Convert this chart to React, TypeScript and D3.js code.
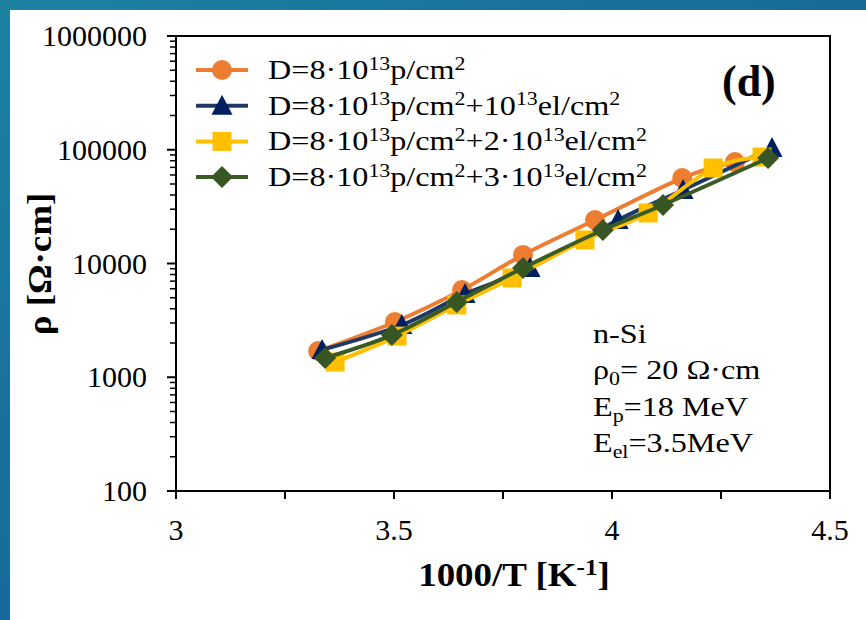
import React from "react";
import * as d3 from "d3";

const W = 866;
const H = 620;

// Data (x = 1000/T, y = resistivity)
const orangeX = [3.326, 3.502, 3.656, 3.796, 3.961, 4.161, 4.282];
const orangeY = [1700, 3060, 5850, 11900, 24100, 56400, 78000];
const navyX = [3.335, 3.518, 3.663, 3.812, 4.014, 4.163, 4.367];
const navyY = [1740, 2880, 5390, 9130, 24100, 44300, 103500];
const goldX = [3.365, 3.507, 3.644, 3.771, 3.938, 4.083, 4.232, 4.344];
const goldY = [1360, 2300, 4320, 7460, 16100, 27800, 69100, 86300];
const greenX = [3.342, 3.495, 3.644, 3.796, 3.979, 4.117, 4.358];
const greenY = [1480, 2350, 4590, 9130, 19700, 32700, 84600];

const legendLabels = [
  "D=8·10^{13}p/cm^{2}",
  "D=8·10^{13}p/cm^{2}+10^{13}el/cm^{2}",
  "D=8·10^{13}p/cm^{2}+2·10^{13}el/cm^{2}",
  "D=8·10^{13}p/cm^{2}+3·10^{13}el/cm^{2}",
];
const xTicks = [3, 3.25, 3.5, 3.75, 4, 4.25, 4.5];
const xTickLabels = ["3", "", "3.5", "", "4", "", "4.5"];
const yMajor = [100, 1000, 10000, 100000, 1000000];
const yTickLabels = ["100", "1000", "10000", "100000", "1000000"];
const noteLines = ["n-Si", "ρ_{0}= 20 Ω·cm", "E_{p}=18 MeV", "E_{el}=3.5MeV"];

const seriesDefs = [
  { xs: orangeX, ys: orangeY, line: "#ED7D31", fill: "#ED7D31", shape: "circle" },
  { xs: navyX, ys: navyY, line: "#1F3864", fill: "#002060", shape: "triangle" },
  { xs: goldX, ys: goldY, line: "#FFC000", fill: "#FFC000", shape: "square" },
  { xs: greenX, ys: greenY, line: "#3B5B24", fill: "#375623", shape: "diamond" },
];

const SERIF = "'Liberation Serif', 'Times New Roman', serif";

const plot = { left: 176, right: 830, top: 36, bottom: 491 };
const x = d3.scaleLinear().domain([3, 4.5]).range([plot.left, plot.right]);
const y = d3.scaleLog().domain([100, 1000000]).range([plot.bottom, plot.top]);

function rich(s: string, fs: number, key: string) {
  const out: any[] = [];
  const re = /(\^|_)\{([^}]*)\}/g;
  let last = 0;
  let m: RegExpExecArray | null;
  let shift = 0;
  let i = 0;
  const small = fs * 0.68;
  while ((m = re.exec(s))) {
    if (m.index > last) {
      out.push(
        <tspan key={key + i++} dy={-shift} fontSize={fs}>
          {s.slice(last, m.index)}
        </tspan>
      );
      shift = 0;
    }
    const d = m[1] === "^" ? -fs * 0.33 : fs * 0.22;
    out.push(
      <tspan key={key + i++} dy={d - shift} fontSize={small}>
        {m[2]}
      </tspan>
    );
    shift = d;
    last = m.index + m[0].length;
  }
  if (last < s.length) {
    out.push(
      <tspan key={key + i++} dy={-shift} fontSize={fs}>
        {s.slice(last)}
      </tspan>
    );
  }
  return out;
}

function Marker({ shape, cx, cy, color }: any) {
  if (shape === "circle") return <circle cx={cx} cy={cy} r={10} fill={color} />;
  if (shape === "square")
    return <rect x={cx - 9.5} y={cy - 9.5} width={19} height={19} fill={color} />;
  if (shape === "triangle")
    return (
      <path
        d={`M${cx},${cy - 11} L${cx + 10.5},${cy + 9} L${cx - 10.5},${cy + 9} Z`}
        fill={color}
      />
    );
  return (
    <path
      d={`M${cx},${cy - 11} L${cx + 11},${cy} L${cx},${cy + 11} L${cx - 11},${cy} Z`}
      fill={color}
    />
  );
}

export default function App() {
  const lineGen = d3
    .line<[number, number]>()
    .x((d) => x(d[0]))
    .y((d) => y(d[1]))
    .curve(d3.curveCardinal.tension(0));

  const yMinor: number[] = [];
  for (let p = 100; p < 1000000; p *= 10) {
    for (let k = 2; k <= 9; k++) yMinor.push(p * k);
  }

  const legendY0 = 70;
  const legendDy = 35.7;

  return (
    <svg
      width={W}
      height={H}
      style={{ position: "absolute", left: 0, top: 0, display: "block" }}
      fontFamily={SERIF}
    >
      <defs>
        <linearGradient id="bg" x1="0" y1="0" x2="1" y2="1">
          <stop offset="0" stopColor="#1D82A2" />
          <stop offset="0.5" stopColor="#186A98" />
          <stop offset="1" stopColor="#174C8E" />
        </linearGradient>
        <clipPath id="plotclip">
          <rect x={plot.left} y={plot.top} width={plot.right - plot.left} height={plot.bottom - plot.top} />
        </clipPath>
      </defs>
      <rect x={0} y={0} width={W} height={H} fill="url(#bg)" />
      <rect x={10} y={10} width={W - 10} height={H - 10} fill="#ffffff" />

      {/* Series */}
      {seriesDefs.map((s, si) => {
        const pts = s.xs.map((xv, i) => [xv, s.ys[i]] as [number, number]);
        return (
          <g key={"s" + si}>
            <path d={lineGen(pts) || ""} fill="none" stroke={s.line} strokeWidth={4} strokeLinejoin="round" />
            {pts.map((p, i) => (
              <Marker key={i} shape={s.shape} cx={x(p[0])} cy={y(p[1])} color={s.fill} />
            ))}
          </g>
        );
      })}

      {/* Frame */}
      <rect
        x={plot.left}
        y={plot.top}
        width={plot.right - plot.left}
        height={plot.bottom - plot.top}
        fill="none"
        stroke="#000"
        strokeWidth={2}
      />

      {/* Y ticks */}
      {yMajor.map((v, i) => (
        <g key={"ym" + i}>
          <line x1={plot.left - 9} x2={plot.left} y1={y(v)} y2={y(v)} stroke="#000" strokeWidth={2} />
          <text x={147} y={y(v) + 10} textAnchor="end" fontSize={30} fill="#000">
            {yTickLabels[i]}
          </text>
        </g>
      ))}
      {yMinor.map((v, i) => (
        <line key={"yn" + i} x1={plot.left - 6} x2={plot.left} y1={y(v)} y2={y(v)} stroke="#000" strokeWidth={1.5} />
      ))}

      {/* X ticks */}
      {xTicks.map((v, i) => (
        <g key={"xt" + i}>
          <line x1={x(v)} x2={x(v)} y1={plot.bottom} y2={plot.bottom + 8} stroke="#000" strokeWidth={2} />
          {xTickLabels[i] && (
            <text x={x(v)} y={540} textAnchor="middle" fontSize={30} fill="#000">
              {xTickLabels[i]}
            </text>
          )}
        </g>
      ))}

      {/* Axis titles */}
      <text transform="translate(514,586) scale(1.12,1)" textAnchor="middle" fontSize={33} fontWeight="bold" fill="#000">
        {rich("1000/T [K^{-1}]", 33, "xl")}
      </text>
      <text transform="translate(51,264) rotate(-90) scale(1.12,1)" textAnchor="middle" fontSize={33} fontWeight="bold" fill="#000">
        ρ [Ω·cm]
      </text>

      {/* Legend */}
      {seriesDefs.map((s, i) => {
        const cy = legendY0 + i * legendDy;
        return (
          <g key={"lg" + i}>
            <line x1={196} x2={248} y1={cy} y2={cy} stroke={s.line} strokeWidth={4} />
            <Marker shape={s.shape} cx={222} cy={cy} color={s.fill} />
            <text transform={`translate(268,${cy + 9}) scale(1.15,1)`} fontSize={28} fill="#000">
              {rich(legendLabels[i], 28, "l" + i)}
            </text>
          </g>
        );
      })}

      {/* Panel label */}
      <text x={722} y={96} fontSize={44} fontWeight="bold" fill="#000">
        (d)
      </text>

      {/* Notes */}
      {noteLines.map((t, i) => (
        <text key={"n" + i} transform={`translate(593,${343 + i * 36.3}) scale(1.15,1)`} fontSize={28} fill="#000">
          {rich(t, 28, "n" + i)}
        </text>
      ))}
    </svg>
  );
}
